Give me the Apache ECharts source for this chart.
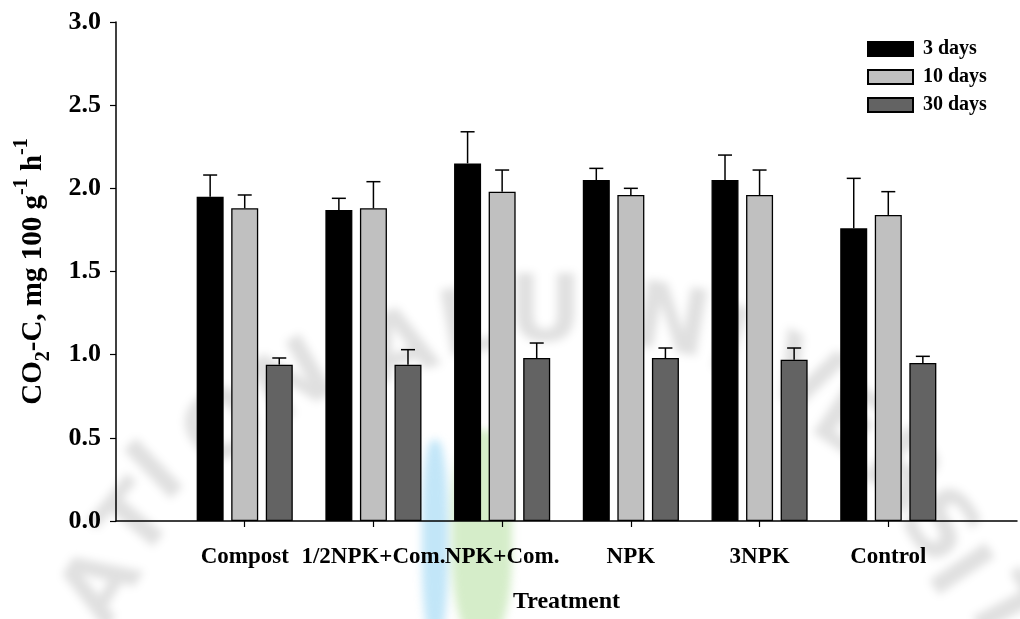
<!DOCTYPE html>
<html>
<head>
<meta charset="utf-8">
<script src="https://cdn.jsdelivr.net/npm/echarts@6/dist/echarts.min.js"></script>
<style>
  html, body { margin: 0; padding: 0; background: #ffffff; }
  #wrap { position: relative; width: 1020px; height: 619px; overflow: hidden; }
  #mark { position: absolute; left: 0; top: 0; width: 1020px; height: 619px; filter: blur(4px); }
  #mark span { position: absolute; font-family: 'DejaVu Sans', sans-serif; font-weight: bold;
               font-size: 92px; color: rgba(0,0,0,0.12); transform-origin: 50% 50%; line-height: 1; }
  #mark .streak { position: absolute; border-radius: 40%; }
  #chart { position: absolute; left: 0; top: 0; width: 1020px; height: 619px; }
</style>
</head>
<body>
<div id="wrap">
  <div id="mark"></div>
  <div id="chart"></div>
</div>
<script>
// Soil CO2-C evolution rate by treatment, after 3, 10 and 30 days of incubation
const categories = ['Compost', '1/2NPK+Com.', 'NPK+Com.', 'NPK', '3NPK', 'Control'];
const seriesNames = ['3 days', '10 days', '30 days'];
const days3  = [1.95, 1.87, 2.15, 2.05, 2.05, 1.76];
const days10 = [1.88, 1.88, 1.98, 1.96, 1.96, 1.84];
const days30 = [0.94, 0.94, 0.98, 0.98, 0.97, 0.95];
// standard errors (upper whisker only)
const err3  = [0.13, 0.07, 0.19, 0.07, 0.15, 0.30];
const err10 = [0.08, 0.16, 0.13, 0.04, 0.15, 0.14];
const err30 = [0.04, 0.09, 0.09, 0.06, 0.07, 0.04];
const yMin = 0, yMax = 3, yStep = 0.5;

// faint repository seal behind the plot
const sealLetters = [
  ['A', 95, 585, -58], ['T', 135, 520, -50], ['I', 170, 470, -44], ['O', 215, 425, -38],
  ['N', 285, 380, -30], ['A', 395, 345, -18], ['L', 470, 322, -10], ['U', 540, 310, 0],
  ['N', 665, 320, 10], ['I', 745, 340, 18], ['V', 800, 375, 26], ['E', 850, 420, 34],
  ['R', 900, 470, 42], ['S', 940, 525, 50], ['I', 975, 570, 56], ['T', 1005, 610, 62]
];
const mark = document.getElementById('mark');
sealLetters.forEach(([ch, cx, cy, rot]) => {
  const s = document.createElement('span');
  s.textContent = ch;
  s.style.left = (cx - 32) + 'px';
  s.style.top = (cy - 46) + 'px';
  s.style.transform = 'rotate(' + rot + 'deg)';
  mark.appendChild(s);
});
[['rgba(120,200,240,0.45)', 422, 440, 26, 200], ['rgba(150,210,120,0.40)', 452, 430, 60, 210]]
  .forEach(([c, x, y, w, h]) => {
    const d = document.createElement('div');
    d.className = 'streak';
    d.style.background = c;
    d.style.left = x + 'px'; d.style.top = y + 'px';
    d.style.width = w + 'px'; d.style.height = h + 'px';
    mark.appendChild(d);
  });

const FONT = "'Liberation Serif', 'Times New Roman', serif";
const colors = ['#000000', '#c0c0c0', '#636363'];
const BAR_W = 27;
const BAR_GAP = 0.28;
const step = BAR_W * (1 + BAR_GAP);

// pad the category axis with an empty slot on each side
const axisCats = [''].concat(categories, ['']);
const padded = arr => ['-'].concat(arr, ['-']);

const means = [days3, days10, days30];
const errs = [err3, err10, err30];

const barSeries = means.map((vals, k) => ({
  name: seriesNames[k],
  type: 'bar',
  data: padded(vals),
  barWidth: BAR_W,
  barGap: (BAR_GAP * 100) + '%',
  itemStyle: { color: colors[k], borderColor: '#000', borderWidth: 1.3 },
  emphasis: { disabled: true },
  z: 2
}));

const errSeries = errs.map((e, k) => ({
  type: 'custom',
  name: seriesNames[k] + ' err',
  data: categories.map((c, i) => [i + 1, means[k][i], e[i]]),
  encode: { x: 0, y: 1 },
  z: 3,
  renderItem: function (params, api) {
    const idx = api.value(0);
    const v = api.value(1);
    const er = api.value(2);
    const base = api.coord([idx, v]);
    const top = api.coord([idx, v + er]);
    const x = base[0] + (k - 1) * step;
    const half = 7;
    const st = { stroke: '#000', lineWidth: 1.5, fill: null };
    return {
      type: 'group',
      children: [
        { type: 'line', shape: { x1: x, y1: base[1], x2: x, y2: top[1] }, style: st },
        { type: 'line', shape: { x1: x - half, y1: top[1], x2: x + half, y2: top[1] }, style: st }
      ]
    };
  }
}));

const chart = echarts.init(document.getElementById('chart'), null, { renderer: 'canvas' });
chart.setOption({
  backgroundColor: 'transparent',
  animation: false,
  grid: { left: 116, top: 22, width: 907.2, height: 499.5, containLabel: false },
  legend: {
    data: seriesNames,
    orient: 'vertical',
    left: 862,
    top: 34,
    itemWidth: 45,
    itemHeight: 14,
    itemGap: 8,
    selectedMode: false,
    icon: 'rect',
    textStyle: { fontFamily: FONT, fontWeight: 'bold', fontSize: 20, color: '#000', lineHeight: 19, padding: [0, 0, 0, 5] }
  },
  xAxis: {
    type: 'category',
    data: axisCats,
    boundaryGap: false,
    name: 'Treatment',
    nameLocation: 'middle',
    nameGap: 69,
    nameTextStyle: { fontFamily: FONT, fontWeight: 'bold', fontSize: 24, color: '#000' },
    axisLine: { lineStyle: { color: '#000', width: 1.5 } },
    axisTick: {
      inside: false, length: 6,
      interval: function (i) { return i >= 1 && i <= categories.length; },
      lineStyle: { color: '#000', width: 1.2 }
    },
    axisLabel: {
      interval: 0, margin: 25,
      fontFamily: FONT, fontWeight: 'bold', fontSize: 23, color: '#000'
    },
    splitLine: { show: false }
  },
  yAxis: {
    type: 'value',
    min: yMin, max: yMax, interval: yStep,
    name: '{b|CO}{sub|2}{b|-C, mg 100 g}{sup|-1}{b| h}{sup|-1}',
    nameLocation: 'middle',
    nameGap: 68,
    nameTextStyle: {
      fontFamily: FONT, fontWeight: 'bold', fontSize: 29, color: '#000',
      rich: {
        b: { fontFamily: FONT, fontWeight: 'bold', fontSize: 29, color: '#000' },
        sub: { fontFamily: FONT, fontWeight: 'bold', fontSize: 20, color: '#000', verticalAlign: 'bottom', padding: [0, 0, -6, 0] },
        sup: { fontFamily: FONT, fontWeight: 'bold', fontSize: 20, color: '#000', verticalAlign: 'top', padding: [-7, 0, 0, 0] }
      }
    },
    axisLine: { show: true, lineStyle: { color: '#000', width: 1.5 } },
    axisTick: { show: true, inside: false, length: 6, lineStyle: { color: '#000', width: 1.2 } },
    axisLabel: {
      margin: 15,
      fontFamily: FONT, fontWeight: 'bold', fontSize: 26, color: '#000',
      formatter: v => v.toFixed(1)
    },
    splitLine: { show: false }
  },
  series: barSeries.concat(errSeries)
});
</script>
</body>
</html>
